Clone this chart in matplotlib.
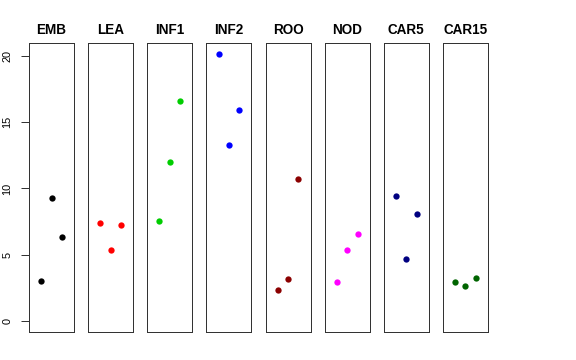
import matplotlib
matplotlib.use("Agg")
import matplotlib.pyplot as plt

plt.rcParams['font.family'] = ['Liberation Sans', 'DejaVu Sans']

tissues = ['EMB', 'LEA', 'INF1', 'INF2', 'ROO', 'NOD', 'CAR5', 'CAR15']
colors = ['black', 'red', '#00CD00', 'blue', '#8B0000', 'magenta', '#000080', '#006400']
reps = [1, 2, 3]
values = [
    [3.04, 9.28, 6.34],
    [7.37, 5.36, 7.27],
    [7.52, 11.98, 16.6],
    [20.17, 13.31, 15.92],
    [2.29, 3.17, 10.72],
    [2.94, 5.33, 6.57],
    [9.41, 4.68, 8.08],
    [2.92, 2.62, 3.22],
]
yticks = [0, 5, 10, 15, 20]

W, H = 576, 360
fig = plt.figure(figsize=(W / 72, H / 72), dpi=72)

ymax = max(max(v) for v in values)
pad_y = ymax * 0.04

for i, (name, col, vals) in enumerate(zip(tissues, colors, values)):
    left = 29 + i * 59.14
    ax = fig.add_axes([left / W, (H - 331.5) / H, 45 / W, 288.5 / H])
    ax.plot(reps, vals, 'o', color=col, markersize=6.3, markeredgewidth=0)
    ax.set_xlim(-0.16, 4.16)
    ax.set_ylim(-pad_y, ymax + pad_y)
    ax.set_xticks([])
    for s in ax.spines.values():
        s.set_linewidth(1)
        s.set_color('#333333')
    ax.set_title(name, fontsize=13.5, fontweight='bold', pad=9)
    if i == 0:
        ax.set_yticks(yticks)
        ax.set_yticklabels([str(t) for t in yticks], rotation=90, va='center', fontsize=11)
        ax.tick_params(axis='y', length=8, width=1, pad=8.5, color='#333333')
    else:
        ax.set_yticks([])

fig.savefig('out.png', dpi=72)
